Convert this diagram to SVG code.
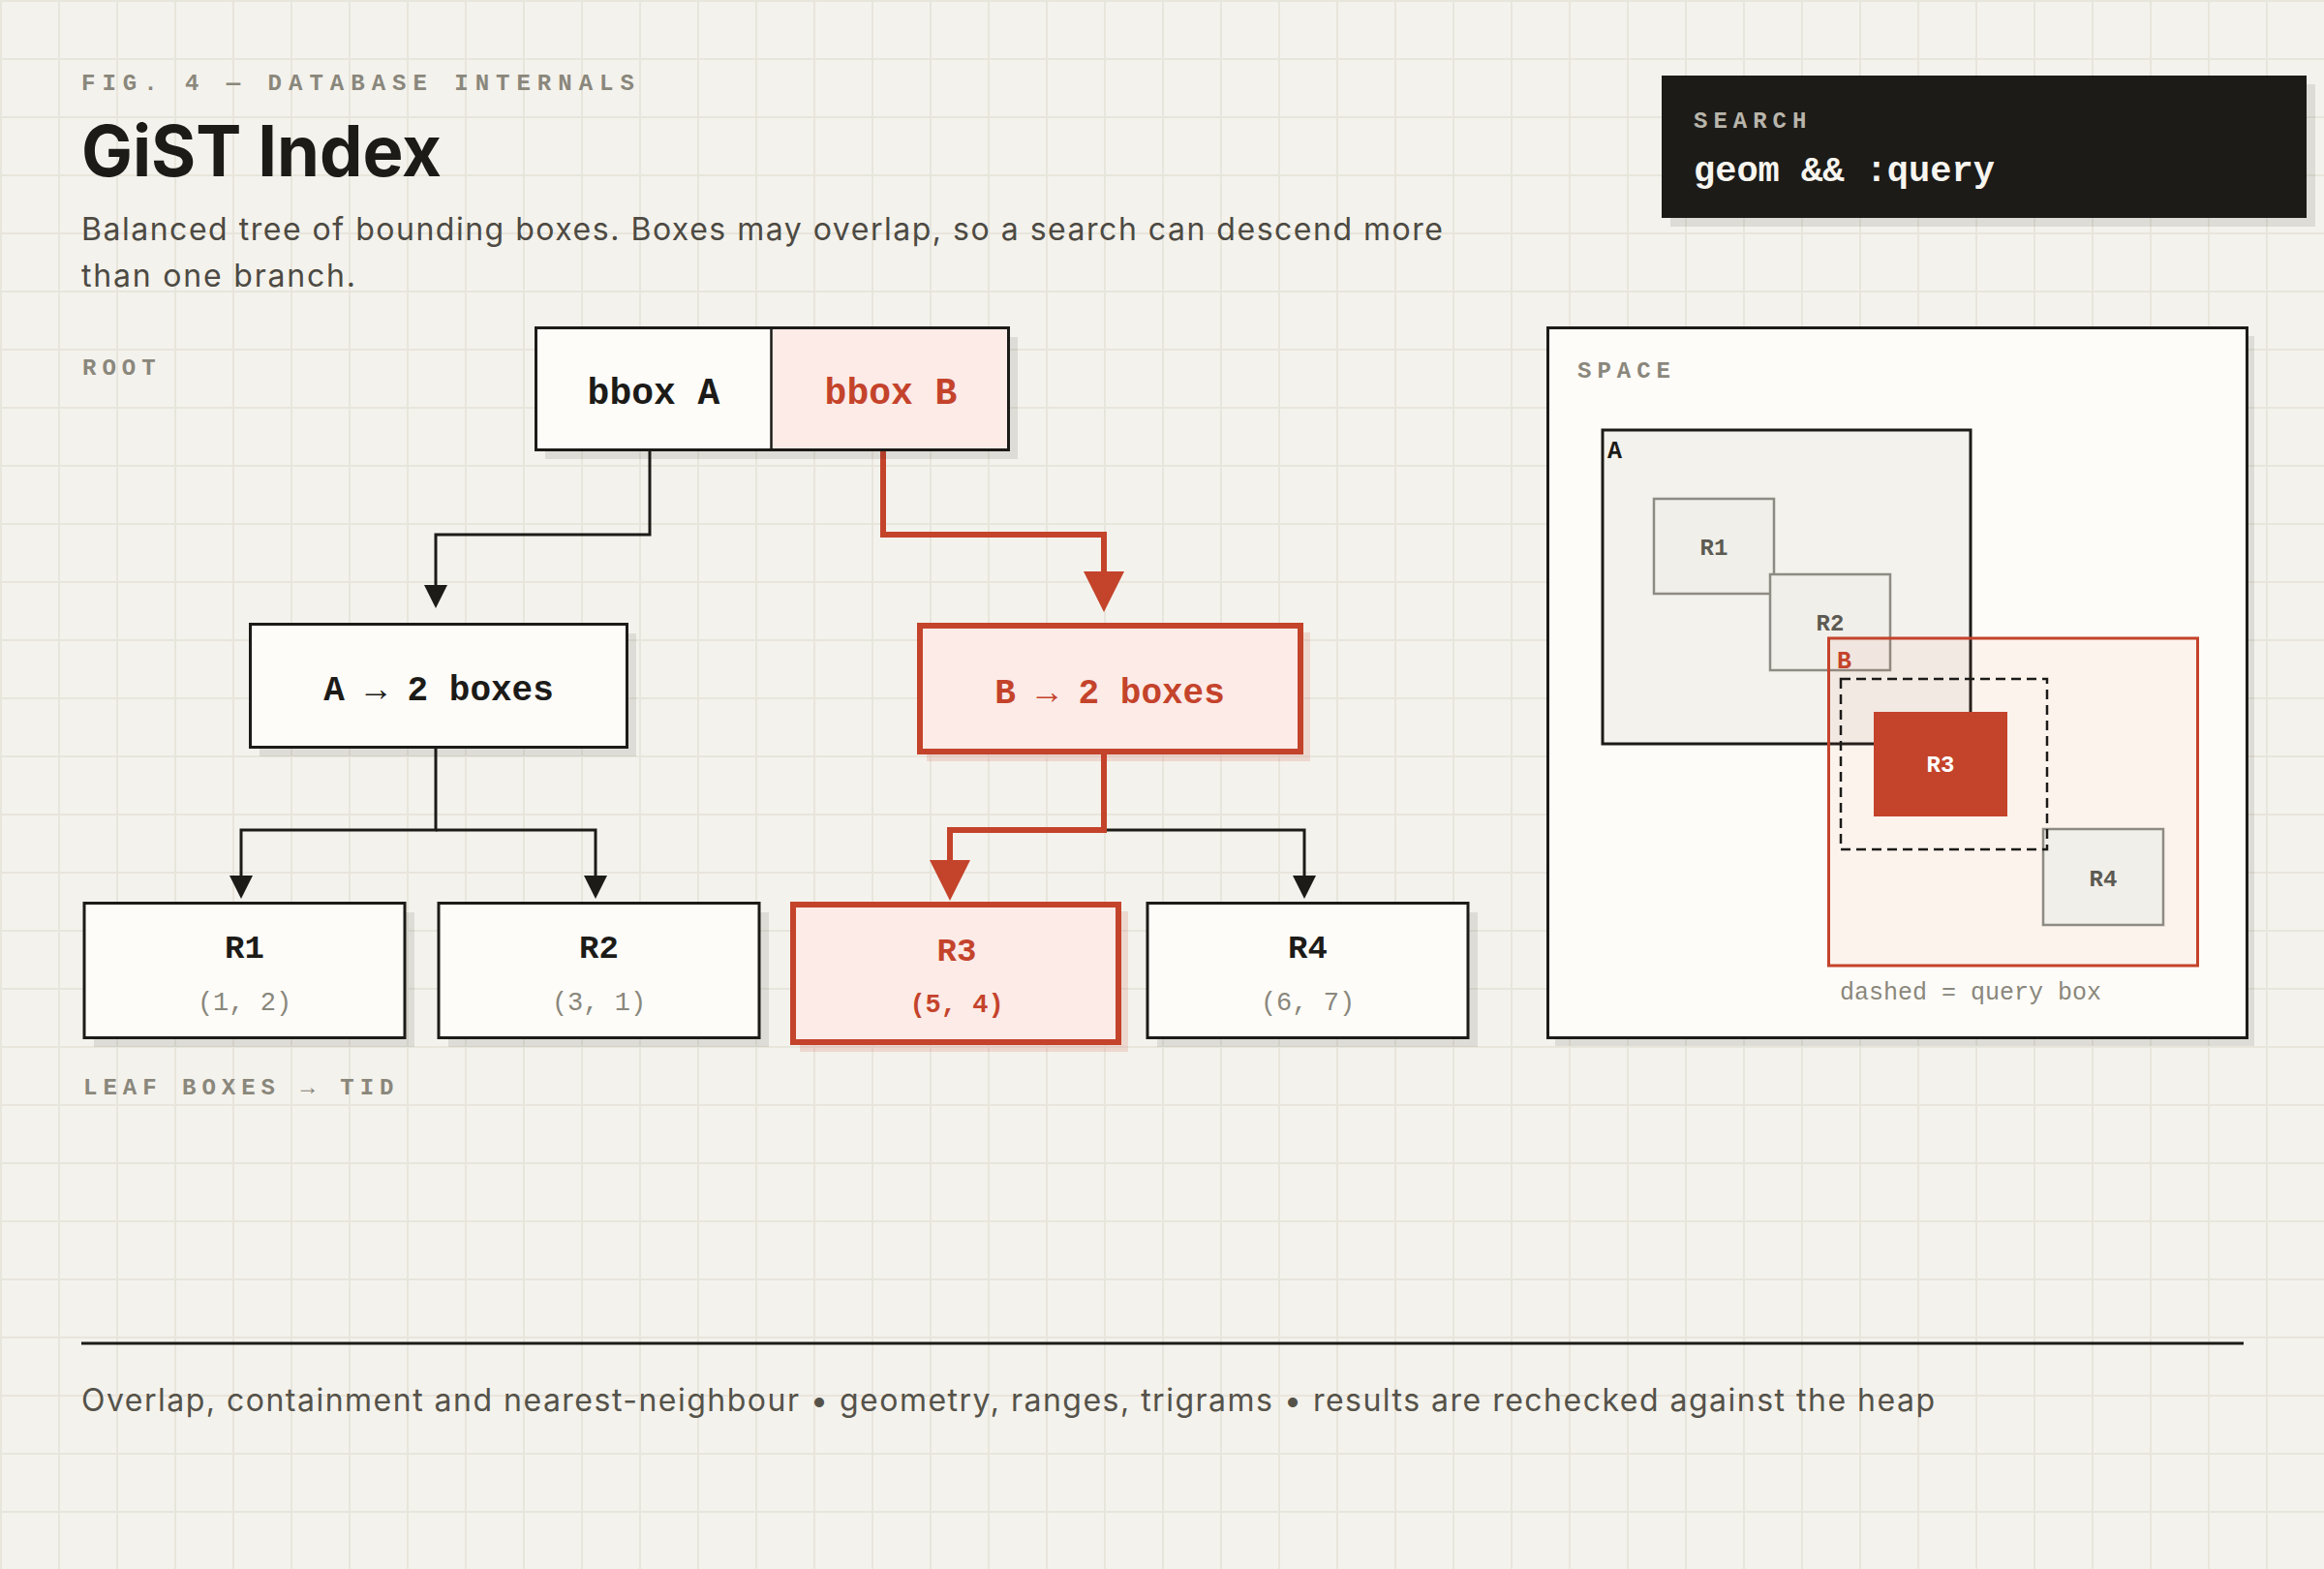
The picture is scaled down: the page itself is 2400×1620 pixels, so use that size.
<svg xmlns="http://www.w3.org/2000/svg" width="2400" height="1620" viewBox="0 0 2400 1620">
<defs>
  <pattern id="grid" x="0" y="0" width="60" height="60" patternUnits="userSpaceOnUse">
    <rect width="60" height="60" fill="#f4f2ec"/>
    <rect x="0" y="0" width="2" height="60" fill="#e8e5dc"/>
    <rect x="0" y="0" width="60" height="2" fill="#e8e5dc"/>
  </pattern>
  <marker id="ahBlack" viewBox="0 0 24 24" markerWidth="24" markerHeight="24" refX="18" refY="12" orient="auto" markerUnits="userSpaceOnUse">
    <path d="M0,0 L24,12 L0,24 z" fill="#1c1b18"/>
  </marker>
  <marker id="ahRed" viewBox="0 0 42 42" markerWidth="42" markerHeight="42" refX="34" refY="21" orient="auto" markerUnits="userSpaceOnUse">
    <path d="M0,0 L42,21 L0,42 z" fill="#c4432b"/>
  </marker>
</defs>
<style>
  .mono { font-family: "Liberation Mono", "DejaVu Sans Mono", monospace; }
  .sans { font-family: "Inter", "Liberation Sans", "DejaVu Sans", sans-serif; }
  .eyebrow { font-family: "Liberation Mono", "DejaVu Sans Mono", monospace; font-size: 24px; font-weight: 700; letter-spacing: 7px; fill: #8a877c; }
  .label { font-family: "Liberation Mono", "DejaVu Sans Mono", monospace; font-size: 24px; font-weight: 700; letter-spacing: 6px; fill: #8a877c; }
  .node { fill: #fdfcf8; stroke: #1c1b18; stroke-width: 3; }
  .hot { fill: #fcebe7; stroke: #c4432b; stroke-width: 6; }
  .shadow { fill: #1c1b18; opacity: 0.1; }
  .shadowHot { fill: #c4432b; opacity: 0.14; }
  .ntext { font-family: "Liberation Mono", "DejaVu Sans Mono", monospace; font-weight: 700; fill: #1c1b18; text-anchor: middle; }
  .rtext { font-family: "Liberation Mono", "DejaVu Sans Mono", monospace; font-weight: 700; fill: #c4432b; text-anchor: middle; }
  .coord { font-family: "Liberation Mono", "DejaVu Sans Mono", monospace; font-size: 27px; fill: #8a877c; text-anchor: middle; }
  .wire { fill: none; stroke: #1c1b18; stroke-width: 3; }
  .wireHot { fill: none; stroke: #c4432b; stroke-width: 6; }
  .sp { stroke: #8d8b83; stroke-width: 2.5; fill: #f1efe9; }
  .sptext { font-family: "Liberation Mono", "DejaVu Sans Mono", monospace; font-size: 24px; font-weight: 700; fill: #5c5a52; text-anchor: middle; }
</style>

<rect x="0" y="0" width="2400" height="1620" fill="url(#grid)"/>

<g id="header">
  <text class="eyebrow" x="84" y="93">FIG. 4 — DATABASE INTERNALS</text>
  <text class="sans" x="84" y="182" font-size="73" font-weight="700" fill="#1c1b18" textLength="372" lengthAdjust="spacingAndGlyphs">GiST Index</text>
  <text class="sans" x="84" y="248" font-size="32" fill="#4d4a43" textLength="1406">Balanced tree of bounding boxes. Boxes may overlap, so a search can descend more</text>
  <text class="sans" x="84" y="296" font-size="32" fill="#4d4a43" textLength="283">than one branch.</text>
</g>

<g id="search-box">
  <rect x="1725" y="87" width="666" height="147" class="shadow"/>
  <rect x="1716" y="78" width="666" height="147" fill="#1c1b18"/>
  <text class="label" x="1749" y="132" style="fill:#b8b5ab">SEARCH</text>
  <text class="mono" x="1749" y="187" font-size="37" font-weight="700" fill="#f7f5ef">geom &amp;&amp; :query</text>
</g>

<g id="labels">
  <text class="label" x="85" y="387">ROOT</text>
  <text class="label" x="86" y="1130">LEAF BOXES → TID</text>
</g>

<g id="connectors">
  <path class="wire" d="M671,466 V552 H450 V622" marker-end="url(#ahBlack)"/>
  <path class="wireHot" d="M912,466 V552 H1140 V624" marker-end="url(#ahRed)"/>
  <path class="wire" d="M450,773 V857 H249 V922" marker-end="url(#ahBlack)"/>
  <path class="wire" d="M450,857 H615 V922" marker-end="url(#ahBlack)"/>
  <path class="wire" d="M1140,857 H1347 V922" marker-end="url(#ahBlack)"/>
  <path class="wireHot" d="M1140,779 V857 H981 V922" marker-end="url(#ahRed)"/>
</g>

<g id="node-root">
  <rect x="563" y="348" width="488" height="126" class="shadow"/>
  <rect x="553.5" y="338.5" width="243" height="126" fill="#fdfcf8"/>
  <rect x="796.5" y="338.5" width="245" height="126" fill="#fcebe7"/>
  <rect x="553.5" y="338.5" width="488" height="126" fill="none" stroke="#1c1b18" stroke-width="3"/>
  <line x1="796.5" y1="338.5" x2="796.5" y2="464.5" stroke="#1c1b18" stroke-width="2.5"/>
  <text class="ntext" x="675" y="417" font-size="38">bbox A</text>
  <text class="rtext" x="920" y="417" font-size="38">bbox B</text>
</g>

<g id="node-a">
  <rect x="268" y="654" width="389" height="127" class="shadow"/>
  <rect x="258.5" y="644.5" width="389" height="127" class="node"/>
  <text class="ntext" x="453" y="723" font-size="36">A → 2 boxes</text>
</g>

<g id="node-b">
  <rect x="957" y="653" width="396" height="133" class="shadowHot"/>
  <rect x="950" y="646" width="393" height="130" class="hot"/>
  <text class="rtext" x="1146" y="726" font-size="36">B → 2 boxes</text>
</g>

<g id="leaf-r1">
  <rect x="97" y="942" width="331" height="139" class="shadow"/>
  <rect x="87" y="932.5" width="331" height="139" class="node"/>
  <text class="ntext" x="252.5" y="989" font-size="34">R1</text>
  <text class="coord" x="252.5" y="1043">(1, 2)</text>
</g>

<g id="leaf-r2">
  <rect x="463" y="942" width="331" height="139" class="shadow"/>
  <rect x="453" y="932.5" width="331" height="139" class="node"/>
  <text class="ntext" x="618.5" y="989" font-size="34">R2</text>
  <text class="coord" x="618.5" y="1043">(3, 1)</text>
</g>

<g id="leaf-r3">
  <rect x="826" y="941" width="339" height="145" class="shadowHot"/>
  <rect x="819" y="934" width="336" height="142" class="hot"/>
  <text class="rtext" x="988" y="992" font-size="34">R3</text>
  <text class="coord" x="988" y="1045" style="fill:#c4432b;font-weight:700">(5, 4)</text>
</g>

<g id="leaf-r4">
  <rect x="1195" y="942" width="331" height="139" class="shadow"/>
  <rect x="1185" y="932.5" width="331" height="139" class="node"/>
  <text class="ntext" x="1350.5" y="989" font-size="34">R4</text>
  <text class="coord" x="1350.5" y="1043">(6, 7)</text>
</g>

<g id="space-panel">
  <rect x="1606" y="347" width="722" height="733" class="shadow"/>
  <rect x="1598.5" y="338.5" width="722" height="733" fill="#fdfcf8" stroke="#1c1b18" stroke-width="3"/>
  <text class="label" x="1629" y="390" letter-spacing="5">SPACE</text>

  <rect x="1655" y="444" width="380" height="324" fill="#f3f2ed" stroke="#1c1b18" stroke-width="3"/>
  <text x="1660" y="473" font-family="Liberation Mono, DejaVu Sans Mono, monospace" font-size="25" font-weight="700" fill="#1c1b18">A</text>

  <rect x="1708" y="515" width="124" height="98" class="sp"/>
  <text class="sptext" x="1770" y="573">R1</text>
  <rect x="1828" y="593" width="124" height="99" class="sp"/>
  <text class="sptext" x="1890" y="651">R2</text>

  <rect x="1888.5" y="659" width="381" height="338" fill="#e8603c" fill-opacity="0.06" stroke="#c4432b" stroke-width="3"/>
  <text x="1897" y="690" font-family="Liberation Mono, DejaVu Sans Mono, monospace" font-size="25" font-weight="700" fill="#c4432b">B</text>

  <rect x="1935" y="735" width="138" height="108" fill="#c4432b"/>
  <text class="sptext" x="2004" y="797" style="fill:#ffffff">R3</text>

  <rect x="2110" y="856" width="124" height="99" class="sp"/>
  <text class="sptext" x="2172" y="915">R4</text>

  <rect x="1901" y="701" width="213" height="176" fill="none" stroke="#1c1b18" stroke-width="2.5" stroke-dasharray="10 6"/>

  <text class="mono" x="1900" y="1032" font-size="25" fill="#8a877c">dashed = query box</text>
</g>

<g id="footer">
  <rect x="84" y="1385.5" width="2233" height="3" fill="#1c1b18"/>
  <text class="sans" x="84" y="1457" font-size="32" fill="#55524a" textLength="1914">Overlap, containment and nearest-neighbour • geometry, ranges, trigrams • results are rechecked against the heap</text>
</g>
</svg>
